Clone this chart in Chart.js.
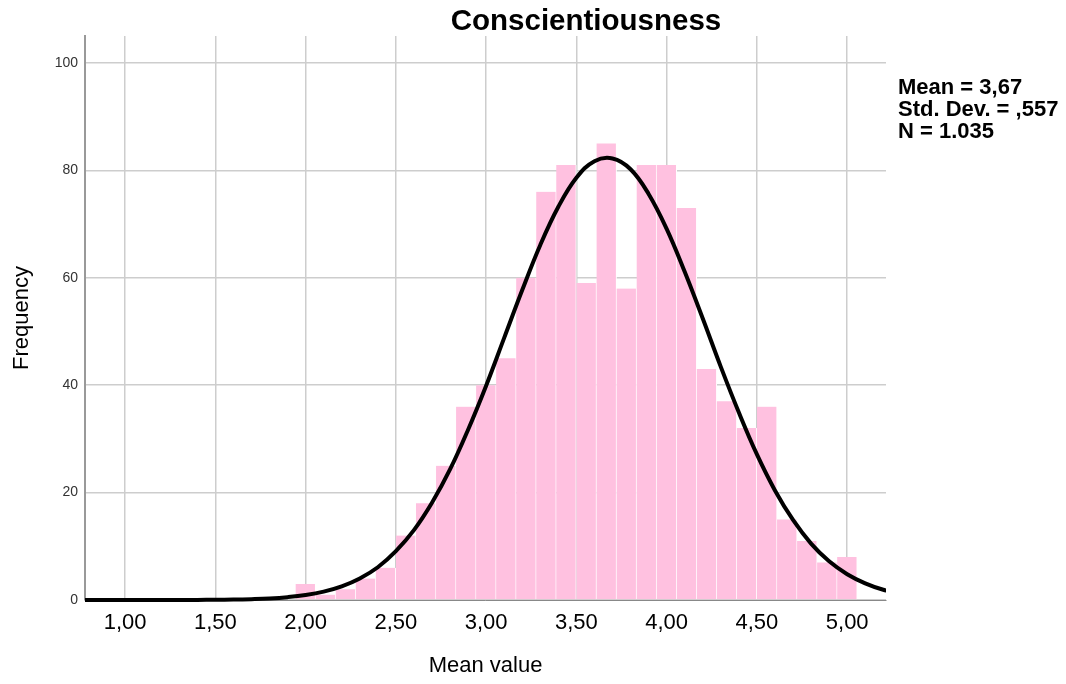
<!DOCTYPE html>
<html>
<head>
<meta charset="utf-8">
<title>Conscientiousness</title>
<script src="https://cdn.jsdelivr.net/npm/chart.js@4.4.1/dist/chart.umd.min.js"></script>
<style>
  body { margin: 0; background: #fff; }
  #chart { display: block; }
</style>
</head>
<body>
<canvas id="chart" width="1066" height="684"></canvas>
<script>
// histogram bins (mean of 9 items, so steps of 1/9)
const binCenters = [2.000, 2.111, 2.222, 2.333, 2.444, 2.556, 2.667, 2.778, 2.889, 3.000,
                    3.111, 3.222, 3.333, 3.444, 3.556, 3.667, 3.778, 3.889, 4.000, 4.111,
                    4.222, 4.333, 4.444, 4.556, 4.667, 4.778, 4.889, 5.000];
const frequencies = [3, 1, 2, 4, 6, 12, 18, 25, 36, 40,
                     45, 60, 76, 81, 59, 85, 58, 81, 81, 73,
                     43, 37, 32, 36, 15, 11, 7, 8];

// normal curve
const curveX = [0.7, 0.8, 0.9, 1.0, 1.1, 1.2, 1.3, 1.4, 1.5, 1.6, 1.7, 1.8, 1.9,
                2.0, 2.1, 2.2, 2.3, 2.4, 2.5, 2.6, 2.7, 2.8, 2.9,
                3.0, 3.1, 3.2, 3.3, 3.4, 3.5, 3.6, 3.7, 3.8, 3.9,
                4.0, 4.1, 4.2, 4.3, 4.4, 4.5, 4.6, 4.7, 4.8, 4.9,
                5.0, 5.1, 5.2, 5.3];
const curveY = [0, 0, 0, 0, 0, 0, 0.01, 0.02, 0.04, 0.08, 0.16, 0.29, 0.53,
                0.92, 1.55, 2.53, 4.0, 6.1, 9.1, 13.0, 18.1, 24.3, 31.7,
                39.9, 48.8, 57.7, 66.1, 73.2, 78.6, 81.7, 82.2, 80.2, 75.6,
                69.1, 61.1, 52.4, 43.4, 34.9, 27.1, 20.4, 14.9, 10.5, 7.2,
                4.8, 3.1, 1.9, 1.14];

const xTicks = [1.0, 1.5, 2.0, 2.5, 3.0, 3.5, 4.0, 4.5, 5.0];
const yTicks = [0, 20, 40, 60, 80, 100];

const chartTitle = 'Conscientiousness';
const statLines = ['Mean = 3,67', 'Std. Dev. = ,557', 'N = 1.035'];

const FONT = "'Liberation Sans', Arial, sans-serif";

const extraText = {
  id: 'extraText',
  afterDraw(chart) {
    const ctx = chart.ctx;
    ctx.save();
    ctx.fillStyle = '#000';
    ctx.font = 'bold 29.5px ' + FONT;
    ctx.textAlign = 'center';
    ctx.textBaseline = 'middle';
    ctx.fillText(chartTitle, 586, 22);

    ctx.font = 'bold 22px ' + FONT;
    ctx.textAlign = 'left';
    ctx.textBaseline = 'alphabetic';
    statLines.forEach((t, i) => {
      ctx.fillText(t, 898, 93.5 + i * 22);
    });
    ctx.restore();
  }
};

const barData = binCenters.map((x, i) => ({ x: x, y: frequencies[i] }));
const curveData = curveX.map((x, i) => ({ x: x, y: curveY[i] }));

new Chart(document.getElementById('chart'), {
  type: 'bar',
  data: {
    datasets: [
      {
        type: 'line',
        data: curveData,
        borderColor: '#000',
        borderWidth: 4,
        pointRadius: 0,
        tension: 0.4,
        fill: false,
        order: 0,
        clip: { left: 0, top: 0, right: 0, bottom: 5 }
      },
      {
        type: 'bar',
        data: barData,
        backgroundColor: '#ffc1e0',
        borderColor: '#ffffff',
        borderWidth: { top: 0, right: 1, bottom: 0, left: 0 },
        borderSkipped: false,
        barPercentage: 1,
        categoryPercentage: 1,
        order: 1
      }
    ]
  },
  options: {
    responsive: false,
    animation: false,
    layout: { padding: { top: 36, right: 180, bottom: 0, left: 0 } },
    plugins: {
      legend: { display: false },
      tooltip: { enabled: false },
      title: { display: false }
    },
    scales: {
      x: {
        type: 'linear',
        min: 0.778,
        max: 5.215,
        offset: false,
        afterFit: s => { s.height = 84; },
        afterBuildTicks: s => { s.ticks = xTicks.map(v => ({ value: v })); },
        grid: { color: '#cdcdcd', lineWidth: 1.5, drawTicks: false, offset: false },
        border: { color: '#888', width: 1 },
        ticks: {
          padding: 10,
          color: '#000',
          font: { family: FONT, size: 22 },
          maxRotation: 0,
          autoSkip: false,
          callback: v => v.toFixed(2).replace('.', ',')
        },
        title: {
          display: true,
          text: 'Mean value',
          color: '#000',
          font: { family: FONT, size: 22 },
          padding: { top: 0, bottom: 5 }
        }
      },
      y: {
        min: 0,
        max: 105,
        afterFit: s => { s.width = 85; },
        afterBuildTicks: s => { s.ticks = yTicks.map(v => ({ value: v })); },
        grid: { color: '#cdcdcd', lineWidth: 1.5, drawTicks: false },
        border: { color: '#999', width: 2 },
        ticks: {
          padding: 7,
          color: '#333',
          font: { family: FONT, size: 14 }
        },
        title: {
          display: true,
          text: 'Frequency',
          color: '#000',
          font: { family: FONT, size: 22 },
          padding: { top: 9, bottom: 0 }
        }
      }
    }
  },
  plugins: [extraText]
});
</script>
</body>
</html>
